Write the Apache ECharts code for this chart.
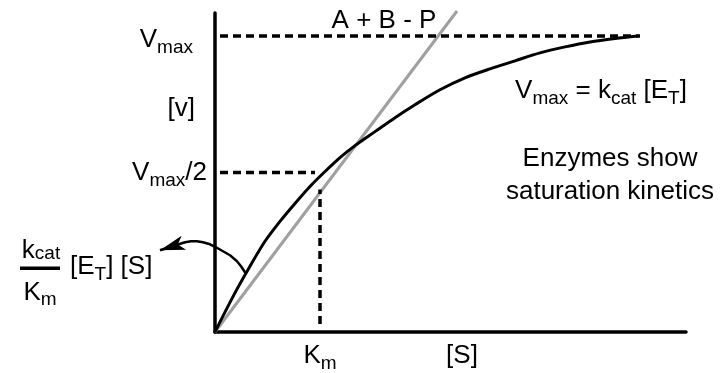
<!DOCTYPE html>
<html>
<head>
<meta charset="utf-8">
<script src="https://cdn.jsdelivr.net/npm/echarts@6/dist/echarts.min.js"></script>
<style>
  html, body { margin: 0; padding: 0; background: #fff; }
  #chart { width: 723px; height: 373px; }
</style>
</head>
<body>
<div id="chart"></div>
<script>
// Saturation curve: substrate concentration [S] vs initial rate v (arbitrary units)
const substrate = [0, 10, 22, 35, 50, 65, 80, 95, 110, 125, 140, 160, 180, 200, 225, 250, 275, 300, 325, 350, 375, 400, 423];
const rate      = [0, 20, 43, 66, 91, 111, 129, 146, 161, 175, 187, 201, 215, 228, 243, 255, 264, 272, 280, 286, 291, 294.5, 297];

// Straight line of the uncatalysed second-order reaction A + B - P
const linearS = [0, 242];
const linearV = [0, 322];

// Reference levels on the axes
const vmaxLevel = 297;     // Vmax
const halfLevel = 160;     // Vmax/2
const kmValue = 105;       // Km
const vNameLevel = 224;    // position of the [v] axis name
const sNameValue = 247;    // position of the [S] axis name

// Extents of the dashed guide lines
const vmaxLineS = [5, 425];
const halfLineS = [5, 100];
const kmLineV = [8, 143];

// Curved arrow from the low-[S] part of the curve out to the rate law
const arrowS = [30, 26, 22, 15, 8, 1, -5, -12, -18, -24, -30];
const arrowV = [60, 66, 71, 77, 81, 85, 88, 90, 91, 91, 90];
// last short segment that carries the arrow head (ends at the tip)
const headS = [-30, -55];
const headV = [90, 82];

const FONT = '"Liberation Sans", Arial, Helvetica, sans-serif';
const MAIN = 26;
const SUB = 19;

function mainStyle(extra) {
  return Object.assign({ fontSize: MAIN, fontFamily: FONT, color: '#000' }, extra || {});
}
function subStyle(pad, extra) {
  return Object.assign({ fontSize: SUB, fontFamily: FONT, color: '#000', padding: pad }, extra || {});
}

const chart = echarts.init(document.getElementById('chart'), null, { renderer: 'canvas' });

const dashed = { color: '#000', width: 3.5, type: [8, 5] };

chart.setOption({
  animation: false,
  backgroundColor: '#fff',
  grid: { left: 215, top: 13, right: 37, bottom: 40, containLabel: false },
  xAxis: {
    type: 'value', min: 0, max: 471,
    axisLine: { show: true, lineStyle: { color: '#000', width: 3.5 } },
    axisTick: { show: false },
    splitLine: { show: false },
    axisLabel: {
      customValues: [kmValue, sNameValue],
      margin: 7,
      formatter: function (v) {
        return v === kmValue ? '{m|K}{s|m}' : '{b|[S]}';
      },
      rich: {
        m: mainStyle(),
        s: subStyle([15, 0, 0, 0]),
        b: mainStyle({ lineHeight: 34 })
      }
    }
  },
  yAxis: {
    type: 'value', min: 0, max: 320,
    axisLine: { show: true, lineStyle: { color: '#000', width: 3.5 } },
    axisTick: { show: false },
    splitLine: { show: false },
    axisLabel: {
      customValues: [halfLevel, vNameLevel, vmaxLevel],
      margin: 8,
      formatter: function (v) {
        if (v === vmaxLevel) return '{mt|V}{st|max}';
        if (v === halfLevel) return '{m|V}{s|max}{m|/2}';
        return '{vr|[v]}';
      },
      rich: {
        mt: mainStyle({ padding: [8, 0, 0, 0] }),
        st: subStyle([24, 14, 0, 0]),
        m: mainStyle(),
        s: subStyle([16, 0, 0, 0]),
        vr: mainStyle({ padding: [0, 12, 0, 0] })
      }
    }
  },
  series: [
    {
      name: 'A + B - P',
      type: 'line',
      data: linearS.map((s, i) => [s, linearV[i]]),
      symbol: 'none',
      clip: false,
      lineStyle: { color: '#a0a0a0', width: 3 },
      z: 2
    },
    {
      name: 'v',
      type: 'line',
      data: substrate.map((s, i) => [s, rate[i]]),
      symbol: 'none',
      smooth: 0.3,
      lineStyle: { color: '#000', width: 3 },
      z: 3
    },
    {
      name: 'Vmax',
      type: 'line',
      data: vmaxLineS.map(s => [s, vmaxLevel]),
      symbol: 'none',
      lineStyle: dashed
    },
    {
      name: 'Vmax/2',
      type: 'line',
      data: halfLineS.map(s => [s, halfLevel]),
      symbol: 'none',
      lineStyle: dashed
    },
    {
      name: 'Km',
      type: 'line',
      data: kmLineV.map(v => [kmValue, v]),
      symbol: 'none',
      lineStyle: dashed
    },
    {
      name: 'arrow',
      type: 'lines',
      coordinateSystem: 'cartesian2d',
      polyline: true,
      clip: false,
      lineStyle: { color: '#000', width: 2.5, opacity: 1, cap: 'round', join: 'round' },
      data: [{ coords: arrowS.map((s, i) => [s, arrowV[i]]) }],
      z: 4
    },
    {
      name: 'arrow head',
      type: 'lines',
      coordinateSystem: 'cartesian2d',
      clip: false,
      symbol: ['none', 'arrow'],
      symbolSize: [1, [11, 25]],
      lineStyle: { color: '#000', width: 2.5, opacity: 1 },
      itemStyle: { color: '#000' },
      data: [{ coords: headS.map((s, i) => [s, headV[i]]) }],
      z: 4
    }
  ],
  graphic: [
    {
      type: 'text', x: 384, y: 21,
      style: {
        text: 'A + B - P', font: MAIN + 'px ' + FONT, fill: '#000',
        align: 'center', verticalAlign: 'middle'
      }
    },
    {
      type: 'text', x: 601, y: 91,
      style: {
        text: '{m|V}{s|max}{m| = k}{s|cat}{m| [E}{s|T}{m|]}',
        align: 'center', verticalAlign: 'middle',
        rich: { m: mainStyle(), s: subStyle([16, 0, 0, 0]) }
      }
    },
    {
      type: 'text', x: 610, y: 175,
      style: {
        text: 'Enzymes show\nsaturation kinetics',
        font: MAIN + 'px ' + FONT, fill: '#000', lineHeight: 33,
        align: 'center', verticalAlign: 'middle'
      }
    },
    // rate law k_cat / K_m [E_T] [S]: numerator, fraction bar, denominator
    {
      type: 'text', x: 41, y: 251,
      style: {
        text: '{m|k}{s|cat}',
        align: 'center', verticalAlign: 'middle',
        rich: { m: mainStyle(), s: subStyle([5, 0, 0, 0]) }
      }
    },
    {
      type: 'rect',
      shape: { x: 20, y: 266.5, width: 40, height: 3.5 },
      style: { fill: '#000' }
    },
    {
      type: 'text', x: 40, y: 293,
      style: {
        text: '{m|K}{s|m}',
        align: 'center', verticalAlign: 'middle',
        rich: { m: mainStyle(), s: subStyle([14, 0, 0, 0]) }
      }
    },
    {
      type: 'text', x: 70, y: 267,
      style: {
        text: '{m|[E}{s|T}{m|] [S]}',
        align: 'left', verticalAlign: 'middle',
        rich: { m: mainStyle(), s: subStyle([16, 0, 0, 0]) }
      }
    }
  ]
});
</script>
</body>
</html>
